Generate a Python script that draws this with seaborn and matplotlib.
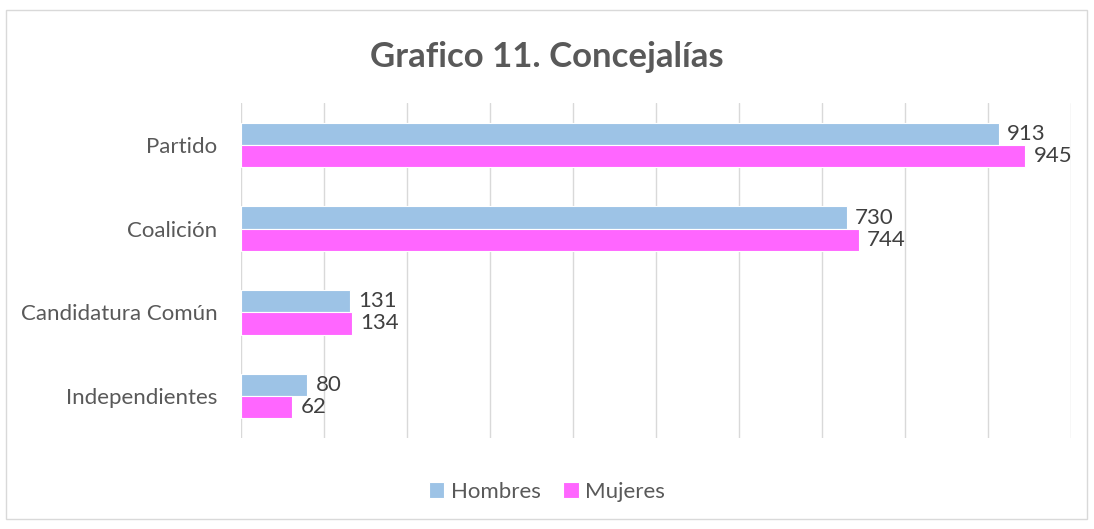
import matplotlib
matplotlib.use("Agg")
import matplotlib.pyplot as plt
import seaborn as sns
import pandas as pd
from matplotlib.patches import Rectangle

categorias = ["Partido", "Coalición", "Candidatura Común", "Independientes"]
hombres = [913, 730, 131, 80]
mujeres = [945, 744, 134, 62]
series = ["Hombres", "Mujeres"]
colores = ["#9DC3E6", "#FF66FF"]
titulo = "Grafico 11. Concejalías"

df = pd.DataFrame({
    "categoria": categorias * 2,
    "valor": hombres + mujeres,
    "sexo": [series[0]] * len(categorias) + [series[1]] * len(categorias),
})

sns.set_theme(style="white")
plt.rcParams["font.family"] = ["Lato", "DejaVu Sans"]

fig = plt.figure(figsize=(10.94, 5.29), dpi=100)
ax = fig.add_axes([241 / 1094, 1 - 438 / 529, (1071 - 241) / 1094, (438 - 103) / 529])

sns.barplot(data=df, y="categoria", x="valor", hue="sexo", orient="h",
            palette=colores, width=0.53, edgecolor="white", linewidth=0.8,
            order=categorias, hue_order=series, ax=ax, legend=True, saturation=1)

ax.set_xlim(0, 1000)
ax.set_ylim(3.5, -0.5)
ax.set_xticks(range(0, 1001, 100))
ax.set_xticklabels([])
ax.xaxis.grid(True, color="#d9d9d9", linewidth=1)
ax.set_axisbelow(True)
ax.tick_params(axis="both", length=0)
ax.tick_params(axis="y", labelsize=16, labelcolor="#595959", pad=17)
for s in ax.spines.values():
    s.set_visible(False)
ax.set_xlabel("")
ax.set_ylabel("")

for cont in ax.containers:
    ax.bar_label(cont, padding=6, fontsize=16, color="#404040")

handles, labels = ax.get_legend_handles_labels()
ax.legend_.remove()
fig.legend(handles, labels, loc="center", bbox_to_anchor=(0.5, 1 - 492 / 529),
           ncol=2, frameon=False, fontsize=16, labelcolor="#595959",
           handlelength=0.7, handleheight=0.7, handletextpad=0.3, columnspacing=1.0)

fig.text(0.5, 1 - 57 / 529, titulo, ha="center", va="center", fontsize=25,
         fontweight="bold", color="#595959")

fig.patches.append(Rectangle((6 / 1094, 1 - 519 / 529), (1087 - 6) / 1094, (519 - 10) / 529,
                             transform=fig.transFigure, fill=False,
                             edgecolor="#d9d9d9", linewidth=1))

fig.savefig("out.png", dpi=100, facecolor="white")
